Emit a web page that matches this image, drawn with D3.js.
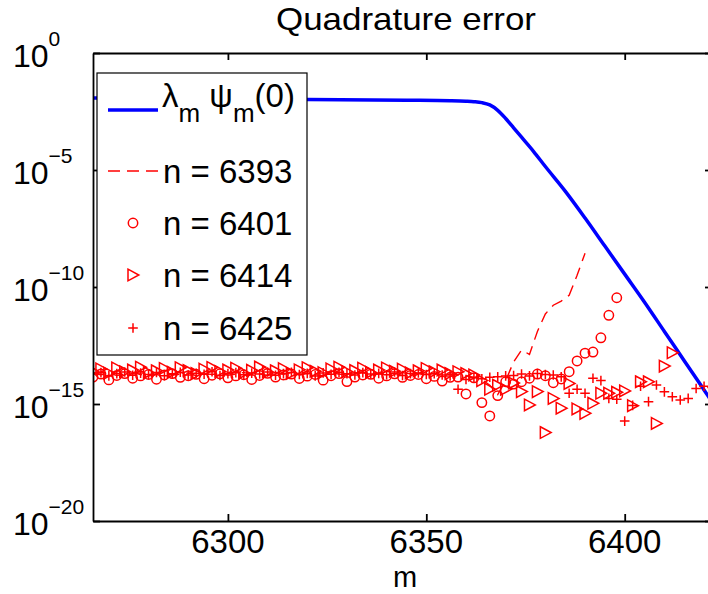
<!DOCTYPE html>
<html>
<head>
<meta charset="utf-8">
<script src="https://cdn.jsdelivr.net/npm/d3@7"></script>
<style>
body { margin: 0; background: #fff; }
text { font-family: "Liberation Sans", Arial, Helvetica, sans-serif; fill: #000; }
</style>
</head>
<body>
<svg id="chart" width="708" height="594"></svg>
<script>
// ---- data (log10 of the error) ----
const blue_m = [6266, 6290, 6320, 6345, 6356, 6360, 6362, 6364, 6366, 6368, 6370, 6372, 6374, 6377,
  6380, 6385, 6390, 6395, 6400, 6405, 6410, 6415, 6420, 6422];
const blue_log = [-1.92, -1.95, -1.99, -2.02, -2.04, -2.06, -2.08, -2.12, -2.22, -2.45, -2.8, -3.2, -3.6, -4.2,
  -4.85, -5.9, -7.05, -8.25, -9.45, -10.65, -11.9, -13.15, -14.4, -14.9];

// every series is sampled at even m only, starting at m = 6266
const m_first = 6266;

const n6393_log = [
  -13.70, -13.75, -13.68, -13.78, -13.72, -13.66, -13.74, -13.80, -13.71, -13.69,
  -13.76, -13.73, -13.67, -13.79, -13.70, -13.74, -13.68, -13.77, -13.72, -13.65,
  -13.75, -13.71, -13.78, -13.69, -13.73, -13.66, -13.76, -13.70, -13.74, -13.79,
  -13.68, -13.72, -13.77, -13.70, -13.66, -13.75, -13.71, -13.73, -13.69, -13.78,
  -13.72, -13.70, -13.76, -13.68, -13.74, -13.72,
  -13.75, -13.8, -13.85, -13.95, -14.2, -14.6, -14.0, -13.2, -12.69, -12.88,
  -11.9, -11.15, -10.78, -10.6, -10.35, -9.5, -8.56];

const n6401_log = [
  -13.85, -13.72, -13.97, -13.78, -13.70, -13.90, -13.80, -13.74, -13.94, -13.76,
  -13.70, -13.86, -13.79, -13.73, -13.92, -13.77, -13.71, -13.88, -13.80, -13.75,
  -13.95, -13.78, -13.69, -13.85, -13.76, -13.72, -13.91, -13.81, -13.74, -13.98,
  -13.79, -13.70, -14.04, -13.85, -13.76, -13.73, -13.90, -13.80, -13.71, -13.86,
  -13.78, -13.74, -13.92, -13.82, -14.02, -13.86,
  -13.85, -14.57, -13.88, -14.94, -15.51, -14.64, -14.05, -14.15, -14.05, -13.9,
  -13.72, -13.79, -14.09, -13.93, -13.62, -13.16, -12.83, -12.78, -12.17, -11.21, -10.46];

const n6414_log = [
  -13.60, -13.50, -13.68, -13.46, -13.62, -13.55, -13.43, -13.66, -13.58, -13.48,
  -13.64, -13.45, -13.57, -13.70, -13.51, -13.44, -13.61, -13.55, -13.47, -13.67,
  -13.56, -13.42, -13.63, -13.58, -13.49, -13.69, -13.54, -13.45, -13.60, -13.66,
  -13.50, -13.43, -13.62, -13.57, -13.47, -13.65, -13.55, -13.46, -13.60, -13.51,
  -13.67, -13.58, -13.48, -13.62, -13.55, -13.70,
  -13.62, -13.70, -13.76, -14.0, -14.37, -14.2, -14.37, -14.1, -14.47, -15.04,
  -14.47, -16.22, -14.76, -15.18, -14.12, -15.21, -15.4, -14.97, -14.54, -14.54,
  -14.5, -14.44, -15.07, -14.05, -14.05, -15.83, -13.38, -12.81];

const n6425_log = [
  -13.72, -13.66, -13.80, -13.70, -13.63, -13.77, -13.68, -13.74, -13.65, -13.79,
  -13.71, -13.64, -13.76, -13.69, -13.73, -13.62, -13.78, -13.70, -13.66, -13.75,
  -13.68, -13.72, -13.63, -13.77, -13.70, -13.65, -13.74, -13.69, -13.80, -13.67,
  -13.73, -13.64, -13.71, -13.76, -13.66, -13.72, -13.69, -13.75, -13.63, -13.78,
  -13.70, -13.67, -13.74, -13.71, -13.76, -13.80,
  -14.37, -13.95, -13.88, -13.92, -13.86, -13.84, -13.8, -13.78, -13.72, -13.8,
  -13.7, -13.74, -13.76, -13.84, -14.54, -14.37, -14.54, -13.9, -14.0, -14.76,
  -14.8, -15.73, -15.06, -14.24, -14.9, -14.19, -14.48, -14.69, -14.83, -14.76,
  -14.34, -14.24, -14.3];

const x_ticks = [6300, 6350, 6400];
const y_ticks = [1, 1e-5, 1e-10, 1e-15, 1e-20];
const y_tick_exp = ["0", "\u22125", "\u221210", "\u221215", "\u221220"];
const legend_labels = ["n = 6393", "n = 6401", "n = 6414", "n = 6425"];

// ---- layout ----
const p_left = 93, p_right = 712, p_top = 53, p_bottom = 521;
const red = "#ff0000", blue = "#0000ff";

const svg = d3.select("#chart");

const x = d3.scaleLinear().domain([6266, 6422]).range([p_left, p_right]);
const y = d3.scaleLog().domain([1e-20, 1]).range([p_bottom, p_top]);

function to_points(logs) {
	return logs.map((v, i) => ({ m: m_first + 2 * i, v: Math.pow(10, v) }));
}

svg.append("defs").append("clipPath").attr("id", "plotclip")
	.append("rect")
	.attr("x", p_left).attr("y", p_top)
	.attr("width", p_right - p_left).attr("height", p_bottom - p_top);

const plot = svg.append("g").attr("clip-path", "url(#plotclip)");

// blue curve
const blue_pts = blue_m.map((m, i) => ({ m: m, v: Math.pow(10, blue_log[i]) }));
plot.append("path")
	.datum(blue_pts)
	.attr("fill", "none")
	.attr("stroke", blue)
	.attr("stroke-width", 3.5)
	.attr("d", d3.line().x(d => x(d.m)).y(d => y(d.v)).curve(d3.curveMonotoneX));

// n = 6393 dashed
plot.append("path")
	.datum(to_points(n6393_log))
	.attr("fill", "none")
	.attr("stroke", red)
	.attr("stroke-width", 1.4)
	.attr("stroke-dasharray", "12,7")
	.attr("d", d3.line().x(d => x(d.m)).y(d => y(d.v)));

// marker shapes
function circle_marker(g) {
	g.append("circle").attr("r", 4.7)
		.attr("fill", "none").attr("stroke", red).attr("stroke-width", 1.5);
}
function tri_marker(g) {
	g.append("path").attr("d", "M-5,-5.8L5.8,0L-5,5.8Z")
		.attr("fill", "none").attr("stroke", red).attr("stroke-width", 1.5);
}
function plus_marker(g) {
	g.append("path").attr("d", "M-4.8,0H4.8M0,-4.8V4.8")
		.attr("fill", "none").attr("stroke", red).attr("stroke-width", 1.5);
}

function draw_markers(logs, shape) {
	plot.append("g").selectAll("g")
		.data(to_points(logs))
		.join("g")
		.attr("transform", d => `translate(${x(d.m)},${y(d.v)})`)
		.each(function () { shape(d3.select(this)); });
}
draw_markers(n6401_log, circle_marker);
draw_markers(n6414_log, tri_marker);
draw_markers(n6425_log, plus_marker);

// ---- axes / frame ----
const frame = svg.append("g");
frame.append("g").attr("transform", `translate(0,${p_bottom})`)
	.call(d3.axisBottom(x).tickValues(x_ticks).tickSize(-7).tickSizeOuter(0).tickFormat(""));
frame.append("g").attr("transform", `translate(0,${p_top})`)
	.call(d3.axisTop(x).tickValues(x_ticks).tickSize(-7).tickSizeOuter(0).tickFormat(""));
frame.append("g").attr("transform", `translate(${p_left},0)`)
	.call(d3.axisLeft(y).tickValues(y_ticks).tickSize(-7).tickSizeOuter(0).tickFormat(""));
frame.append("g").attr("transform", `translate(${p_right},0)`)
	.call(d3.axisRight(y).tickValues(y_ticks).tickSize(-7).tickSizeOuter(0).tickFormat(""));
frame.selectAll(".domain, .tick line").attr("stroke", "#000").attr("stroke-width", 1.8);

// x tick labels
svg.append("g").selectAll("text")
	.data(x_ticks)
	.join("text")
	.attr("x", d => x(d))
	.attr("y", 553)
	.attr("text-anchor", "middle")
	.style("font-size", "33px")
	.text(d => d);

// y tick labels: 10 with superscript exponent
const ylab = svg.append("g").selectAll("text")
	.data(y_ticks)
	.join("text")
	.attr("x", 13)
	.attr("y", d => y(d) + 14)
	.style("font-size", "32px");
ylab.append("tspan").text("10");
ylab.append("tspan")
	.attr("dy", -21)
	.style("font-size", "21px")
	.text((d, i) => y_tick_exp[i]);

// title and x label
svg.append("text")
	.attr("x", 406).attr("y", 30)
	.attr("text-anchor", "middle")
	.attr("textLength", 260)
	.attr("lengthAdjust", "spacingAndGlyphs")
	.style("font-size", "32px")
	.text("Quadrature error");
svg.append("text")
	.attr("x", 405).attr("y", 587)
	.attr("text-anchor", "middle")
	.style("font-size", "29px")
	.text("m");

// ---- legend ----
const legend = svg.append("g");
legend.append("rect")
	.attr("x", 97).attr("y", 73)
	.attr("width", 210).attr("height", 282)
	.attr("fill", "#fff").attr("stroke", "#000").attr("stroke-width", 1.2);

legend.append("line")
	.attr("x1", 108).attr("x2", 158).attr("y1", 110).attr("y2", 110)
	.attr("stroke", blue).attr("stroke-width", 3.5);
const lt = legend.append("text").attr("x", 162).attr("y", 107).style("font-size", "33px");
lt.append("tspan").text("\u03bb");
lt.append("tspan").attr("dy", 15).style("font-size", "26px").text("m");
lt.append("tspan").attr("dy", -15).text(" \u03c8");
lt.append("tspan").attr("dy", 15).style("font-size", "26px").text("m");
lt.append("tspan").attr("dy", -15).text("(0)");

const row_y = [171, 223, 275, 328];
legend.append("line")
	.attr("x1", 108).attr("x2", 160).attr("y1", row_y[0]).attr("y2", row_y[0])
	.attr("stroke", red).attr("stroke-width", 1.4).attr("stroke-dasharray", "12,7");
const shapes = [circle_marker, tri_marker, plus_marker];
shapes.forEach((s, i) => {
	s(legend.append("g").attr("transform", `translate(133,${row_y[i + 1]})`));
});
legend.selectAll("text.lab")
	.data(legend_labels)
	.join("text")
	.attr("class", "lab")
	.attr("x", 163)
	.attr("y", (d, i) => row_y[i] + 12)
	.style("font-size", "33px")
	.text(d => d);
</script>
</body>
</html>
